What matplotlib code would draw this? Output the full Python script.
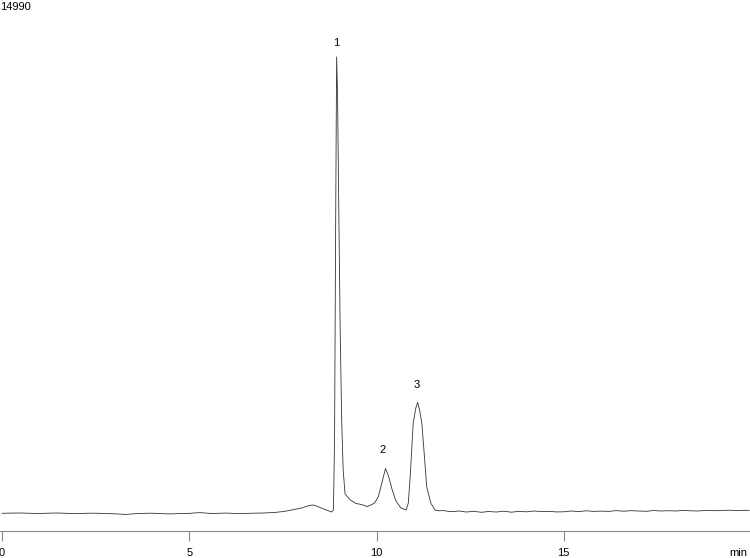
import matplotlib
matplotlib.use('Agg')
import matplotlib.pyplot as plt

plt.rcParams['font.family'] = ['Liberation Sans', 'DejaVu Sans']

# chromatogram trace (time in min, signal in counts)
times = [
    0.0, 0.25, 0.5, 0.75, 1.0, 1.25, 1.5, 1.75, 2.0, 2.25, 2.5, 2.75,
    3.0, 3.15, 3.3, 3.45, 3.6, 3.8, 4.0, 4.25, 4.5, 4.75, 5.0, 5.15,
    5.3, 5.45, 5.6, 5.8, 6.0, 6.25, 6.5, 6.75, 7.0, 7.15, 7.3, 7.45,
    7.6, 7.8, 8.0, 8.2, 8.3, 8.4, 8.55, 8.7, 8.8, 8.85, 8.88, 8.91,
    8.935, 8.96, 8.99, 9.03, 9.07, 9.11, 9.16, 9.3, 9.45, 9.6, 9.75,
    9.85, 9.95, 10.05, 10.15, 10.24, 10.32, 10.42, 10.52, 10.65, 10.79,
    10.85, 10.91, 10.98, 11.05, 11.10, 11.15, 11.21, 11.28, 11.34,
    11.45, 11.56, 11.67, 11.78, 11.9, 12.04, 12.2, 12.4, 12.6, 12.8,
    13.0, 13.2, 13.4, 13.6, 13.8, 14.0, 14.2, 14.4, 14.6, 14.8, 15.0,
    15.2, 15.4, 15.6, 15.8, 16.0, 16.2, 16.4, 16.6, 16.8, 17.0, 17.2,
    17.4, 17.6, 17.8, 18.0, 18.2, 18.4, 18.6, 18.8, 19.0, 19.2, 19.4,
    19.6, 19.8, 19.95,
]
signal = [
    504, 510, 513, 505, 499, 508, 513, 502, 496, 505, 507, 498,
    490, 482, 470, 485, 496, 503, 507, 495, 487, 497, 502, 515,
    524, 510, 499, 505, 510, 500, 502, 508, 513, 522, 530, 548,
    570, 613, 656, 727, 741, 713, 641, 584, 541, 599, 2594, 8864,
    13509, 12426, 9434, 5729, 3164, 1739, 1055, 884, 784, 755, 698,
    741, 798, 983, 1397, 1781, 1568, 1169, 855, 656, 599,
    798, 1739, 3078, 3506, 3662, 3449, 3078, 2118, 1263,
    798, 599, 575, 584, 562, 550, 570, 541, 561, 533,
    556, 541, 564, 536, 559, 547, 570, 553, 560, 544, 547,
    570, 553, 576, 559, 566, 559, 581, 564, 579, 570, 561,
    584, 570, 578, 570, 587, 575, 570, 590, 579, 582, 593,
    580, 590, 587,
]

peak_labels = ['1', '2', '3']
peak_times = [8.92, 10.17, 11.08]
peak_label_y = [13908, 2308, 4161]

x_ticks = [0, 5, 10, 15]
y_max = 14990

fig = plt.figure(figsize=(7.5, 5.58), dpi=100)
ax = fig.add_axes([0.0, 27 / 558, 1.0, 526 / 558])

ax.plot(times, signal, color='#333333', linewidth=0.6)

for lab, t, y in zip(peak_labels, peak_times, peak_label_y):
    ax.text(t, y, lab, ha='center', va='center', fontsize=8)

ax.set_xlim(-2 / 37.45, 748 / 37.45)
ax.set_ylim(0, y_max)

for side in ['top', 'left', 'right']:
    ax.spines[side].set_visible(False)
ax.spines['bottom'].set_color('#8a8a8a')
ax.spines['bottom'].set_linewidth(0.8)

ax.set_xticks(x_ticks)
ax.set_yticks([])
ax.tick_params(axis='x', direction='out', length=7.5, width=0.8,
               color='#8a8a8a', labelsize=8, pad=5)

fig.text(0.0, 1 - 2 / 558, str(y_max), ha='left', va='top', fontsize=8)
fig.text(0.997, 1 - 553 / 558, 'min', ha='right', va='center', fontsize=8)

fig.savefig('out.png', dpi=100)
